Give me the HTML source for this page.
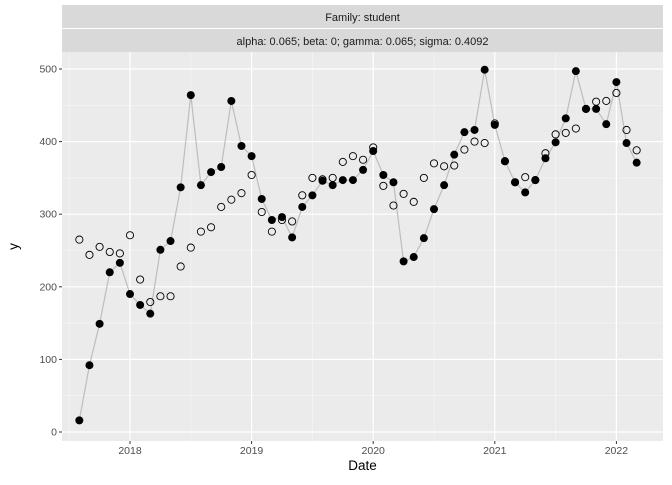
<!DOCTYPE html>
<html><head><meta charset="utf-8"><style>
body{margin:0;background:#fff;font-family:"Liberation Sans",Arial,sans-serif}
svg text{font-family:"Liberation Sans",Arial,sans-serif}
</style></head><body>
<svg id="c" width="672" height="480" xmlns="http://www.w3.org/2000/svg"></svg>
<script>
const actual=[16,92,149,220,233,190,175,163,251,263,337,464,340,358,365,456,394,380,321,292,296,268,310,326,346,340,347,347,361,387,354,344,235,241,267,307,340,382,413,416,499,423,373,344,330,347,377,399,432,497,445,445,424,482,398,371];
const fitted=[265,244,255,248,246,271,210,179,187,187,228,254,276,282,310,320,329,354,303,276,292,290,326,350,348,350,372,380,375,392,339,312,328,317,350,370,366,367,389,400,398,425,373,344,351,347,384,410,412,418,445,455,456,467,416,388];
const yTicks=[0,100,200,300,400,500];
const xTicks=[2018,2019,2020,2021,2022];
const startYear=2017, startMonth=7; // Aug 2017 (0-based month)
const L=62,R=663,T=52,B=441;
const sx=t=>130+(t-2018)*121.6;
const sy=v=>432-v*0.726;
const svg=document.getElementById('c');
const NS='http://www.w3.org/2000/svg';
function mk(tag,attrs,parent){const e=document.createElementNS(NS,tag);for(const k in attrs)e.setAttribute(k,attrs[k]);(parent||svg).appendChild(e);return e;}
let e;
e=mk('rect',{x:L,y:T,width:R-L,height:B-T,fill:'#EBEBEB'});


// strips
e=mk('rect',{x:L,y:5,width:R-L,height:23,fill:'#D9D9D9'});


e=mk('rect',{x:L,y:29,width:R-L,height:23,fill:'#D9D9D9'});


e=mk('text',{x:(L+R)/2,y:21,'text-anchor':'middle','font-size':'11',fill:'#1A1A1A'});e.textContent='Family: student';


e=mk('text',{x:(L+R)/2,y:45,'text-anchor':'middle','font-size':'11',fill:'#1A1A1A'});e.textContent='alpha: 0.065; beta: 0; gamma: 0.065; sigma: 0.4092';


// grid
for(let i=0;i<yTicks.length-1;i++){const v=(yTicks[i]+yTicks[i+1])/2;
 e=mk('line',{x1:L,x2:R,y1:sy(v),y2:sy(v),stroke:'#F7F7F7','stroke-width':0.6});
 
 }
for(let i=-1;i<xTicks.length;i++){const v=(i<0?xTicks[0]-1:xTicks[i])+0.5;const x=sx(v);if(x<L||x>R)continue;
 e=mk('line',{x1:x,x2:x,y1:T,y2:B,stroke:'#F7F7F7','stroke-width':0.6});
 
 }
yTicks.forEach(v=>{e=mk('line',{x1:L,x2:R,y1:sy(v),y2:sy(v),stroke:'#fff','stroke-width':1.2});
 
 
 e=mk('line',{x1:L-3,x2:L,y1:sy(v),y2:sy(v),stroke:'#333','stroke-width':1});
 
 
 e=mk('text',{x:L-5,y:sy(v)+3.5,'text-anchor':'end','font-size':'10.5',fill:'#4D4D4D'});e.textContent=v;
 
 });
xTicks.forEach(v=>{const x=sx(v);e=mk('line',{x1:x,x2:x,y1:T,y2:B,stroke:'#fff','stroke-width':1.2});
 
 
 e=mk('line',{x1:x,x2:x,y1:B,y2:B+3,stroke:'#333','stroke-width':1});
 
 
 e=mk('text',{x:x,y:B+13,'text-anchor':'middle','font-size':'10.5',fill:'#4D4D4D'});e.textContent=v;
 
 });
e=mk('text',{x:(L+R)/2,y:470,'text-anchor':'middle','font-size':'13.5',fill:'#000'});e.textContent='Date';


e=mk('text',{x:18,y:(T+B)/2,'text-anchor':'middle','font-size':'13.5',fill:'#000',transform:`rotate(-90 18 ${(T+B)/2})`});e.textContent='y';


const tx=i=>sx(startYear+(startMonth+i)/12);
e=mk('polyline',{points:actual.map((v,i)=>tx(i)+','+sy(v)).join(' '),fill:'none',stroke:'#BDBDBD','stroke-width':1.2});


fitted.forEach((v,i)=>{e=mk('circle',{cx:tx(i),cy:sy(v),r:3.6,fill:'none',stroke:'#000','stroke-width':0.9});
 
 });
actual.forEach((v,i)=>{e=mk('circle',{cx:tx(i),cy:sy(v),r:4,fill:'#000'});
 
 });
</script>
</body></html>
